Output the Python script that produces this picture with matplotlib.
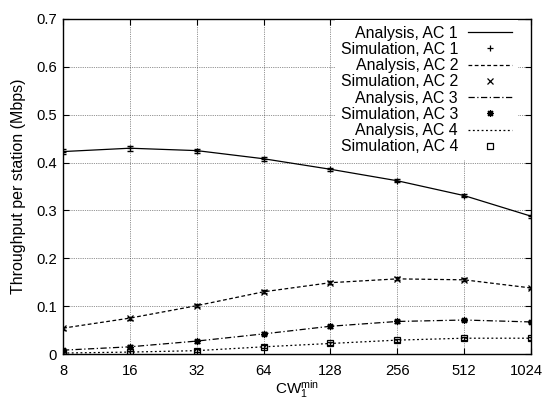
# -*- coding: utf-8 -*-
"""
Throughput per station vs CW_1^min, analysis lines and simulation points
"""
import numpy as np
import matplotlib
matplotlib.use("Agg")
import matplotlib.pyplot as plt
import matplotlib.transforms as mtransforms

plt.rcParams['font.family'] = ['Liberation Sans', 'DejaVu Sans']
plt.rcParams['mathtext.fontset'] = 'custom'
plt.rcParams['mathtext.rm'] = 'Liberation Sans'
plt.rcParams['mathtext.it'] = 'Liberation Sans:italic'

# data
cw = [8, 16, 32, 64, 128, 256, 512, 1024]
ac1 = [0.423, 0.430, 0.425, 0.408, 0.386, 0.362, 0.331, 0.288]
ac2 = [0.054, 0.075, 0.101, 0.130, 0.149, 0.157, 0.155, 0.138]
ac3 = [0.008, 0.015, 0.027, 0.042, 0.058, 0.068, 0.071, 0.067]
ac4 = [0.002, 0.004, 0.007, 0.015, 0.022, 0.029, 0.033, 0.033]
err1 = [0.006, 0.005, 0.004, 0.004, 0.003, 0.003, 0.003, 0.003]
err_small = [0.003, 0.003, 0.003, 0.003, 0.003, 0.003, 0.003, 0.003]

fig = plt.figure(figsize=(5.44, 4.04), dpi=100)
ax = fig.add_axes([63/544, 1 - 354/404, (531 - 63)/544, (354 - 19)/404])

series = [
    (ac1, err1, '-', '+', 'AC 1'),
    (ac2, err_small, (0, (3, 2)), 'x', 'AC 2'),
    (ac3, err_small, (0, (5, 2, 1, 2)), (8, 2, 0), 'AC 3'),
    (ac4, err_small, (0, (1.5, 2)), 's', 'AC 4'),
]

for vals, err, ls, mk, name in series:
    ax.plot(cw, vals, color='black', linestyle=ls, linewidth=0.9,
            label='Analysis, ' + name)
    ax.errorbar(cw, vals, yerr=err, color='black', linestyle='none',
                marker='none', elinewidth=0.8, capsize=2.5)
    ax.plot(cw, vals, color='black', linestyle='none', marker=mk,
            markersize=5, markerfacecolor='none', markeredgewidth=0.9,
            label='Simulation, ' + name)

ax.set_xscale('log', base=2)
ax.set_xlim(8, 1024)
ax.set_ylim(0, 0.7)
ax.set_xticks(cw)
ax.set_xticklabels([str(c) for c in cw])
ax.set_yticks(np.arange(0, 0.71, 0.1))
ax.set_yticklabels(['0', '0.1', '0.2', '0.3', '0.4', '0.5', '0.6', '0.7'])
ax.minorticks_off()
ax.tick_params(direction='in', top=True, right=True, labelsize=10.6,
               length=4.5, width=0.8)
ax.tick_params(axis='x', pad=7)
ax.tick_params(axis='y', pad=4.5)
ax.grid(True, color='#333333', linestyle=(0, (1, 1.6)), linewidth=0.5)
for s in ax.spines.values():
    s.set_linewidth(1.0)

# keep the last x label inside the picture, like the original
last = ax.get_xticklabels()[-1]
last.set_horizontalalignment('right')
last.set_transform(last.get_transform() +
                   mtransforms.ScaledTranslation(12/100, 0, fig.dpi_scale_trans))

ax.set_xlabel(r'CW$_1^{\rm min}$', fontsize=11, labelpad=0)
ax.set_ylabel('Throughput per station (Mbps)', fontsize=11.5, labelpad=7)

leg = ax.legend(loc='upper right', markerfirst=False, frameon=True,
                fontsize=11.4, handlelength=2.8, labelspacing=0.08,
                borderaxespad=0, borderpad=0.35, handletextpad=0.63,
                bbox_to_anchor=(0.972, 0.997), fancybox=False)
leg.get_frame().set_edgecolor('none')
leg.get_frame().set_facecolor('white')
leg.get_frame().set_alpha(1)
leg._legend_box.align = 'right'

fig.savefig("out.png", dpi=100)
